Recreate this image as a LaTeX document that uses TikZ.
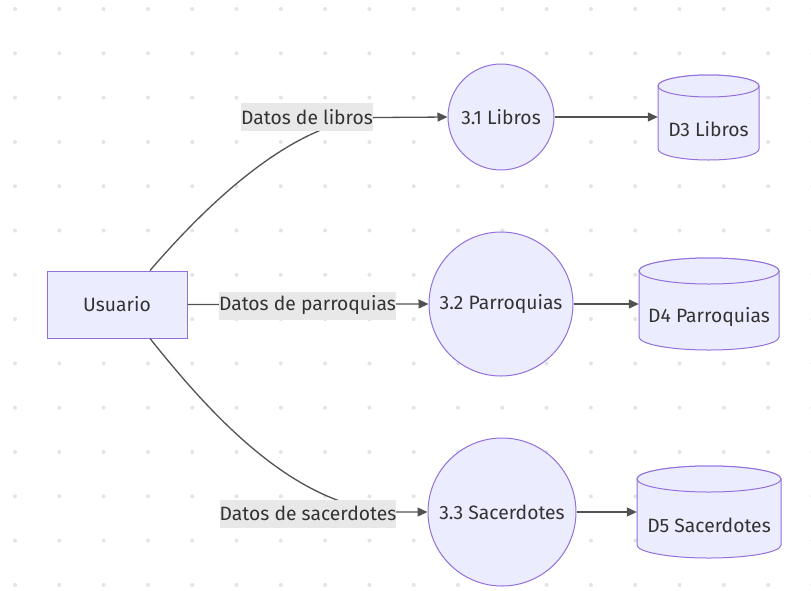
\documentclass[tikz,border=0pt]{standalone}
\usepackage{fontspec}
\setmainfont{Fira Sans}
\usetikzlibrary{arrows.meta}
\definecolor{nodefill}{HTML}{ECECFF}
\definecolor{nodeline}{HTML}{9370DB}
\definecolor{edgecol}{HTML}{333333}
\definecolor{labelbg}{HTML}{E8E8E8}
\definecolor{dotcol}{HTML}{E4E4E4}
\newcommand\dbcyl[5]{% cx, top, width, height, ry
  \pgfmathsetmacro\rxv{#3/2}%
  \pgfmathsetmacro\tyv{#2+#5}%
  \pgfmathsetmacro\byv{#2+#4-#5}%
  \path[cylshape] (#1-\rxv,\tyv) -- (#1-\rxv,\byv)
    arc[start angle=180,end angle=360,x radius=\rxv pt,y radius=#5pt]
    -- (#1+\rxv,\tyv)
    arc[start angle=0,end angle=180,x radius=\rxv pt,y radius=#5pt] -- cycle;
  \path[cylshape] (#1,\tyv) ellipse[x radius=\rxv pt,y radius=#5pt];
}
\begin{document}
\begin{tikzpicture}[x=1pt,y=-1pt,
  font=\fontsize{19.3}{22}\selectfont, text=edgecol,
  proc/.style={circle,draw=nodeline,fill=nodefill,line width=1pt,inner sep=0pt},
  ent/.style={rectangle,draw=nodeline,fill=nodefill,line width=1pt,minimum width=140pt,minimum height=67pt},
  lbl/.style={fill=labelbg,inner xsep=0pt,inner ysep=0pt,minimum height=28pt},
  flow/.style={draw=edgecol!85,line width=1.3pt,-{Triangle[length=10pt,width=9pt]}},
  cylshape/.style={draw=nodeline,fill=nodefill,line width=1pt},
  dbtext/.style={inner sep=0pt,minimum height=20pt}]
\fill[white] (0,0) rectangle (811,590);
\useasboundingbox (0,0) rectangle (811,590);
\foreach \i in {0,...,18}{
  \foreach \j in {0,...,13}{
    \fill[dotcol] (15+44.3*\i,9+44.3*\j) circle (2pt);
  }
}
% shapes
\node[ent] (u) at (117,304.5) {Usuario};
\node[proc,minimum size=106pt] (p1) at (501,117) {3.1 Libros};
\node[proc,minimum size=144pt] (p2) at (501,304) {3.2 Parroquias};
\node[proc,minimum size=148pt] (p3) at (502,512) {3.3 Sacerdotes};
\dbcyl{708.5}{75}{101}{85}{11}
\dbcyl{709}{258}{140}{92}{13}
\dbcyl{709}{466}{144}{92}{13}
\node[dbtext,minimum width=101pt] (d3) at (708.5,129) {D3 Libros};
\node[dbtext,minimum width=140pt] (d4) at (709,317) {D4 Parroquias};
\node[dbtext,minimum width=144pt] (d5) at (709,525) {D5 Sacerdotes};
% connectors
\coordinate (k1) at (378,117.5);
\coordinate (k3) at (400,512);
\draw[flow] ([xshift=33pt]u.north) .. controls (215,195) and (300,118) .. (k1) -- (p1.west);
\draw[flow] (u.east) -- (p2.west);
\draw[flow] ([xshift=33pt]u.south) .. controls (215,420) and (300,512) .. (k3) -- (p3.west);
\draw[flow] (p1.east) -- (p1.east -| d3.west);
\draw[flow] (p2.east) -- (p2.east -| d4.west);
\draw[flow] (p3.east) -- (p3.east -| d5.west);
% labels
\node[lbl] (l1) at (307,117) {Datos de libros};
\node[lbl] (l2) at (307.5,305.5) {Datos de parroquias};
\node[lbl] (l3) at (308,513.5) {Datos de sacerdotes};
\end{tikzpicture}
\end{document}
